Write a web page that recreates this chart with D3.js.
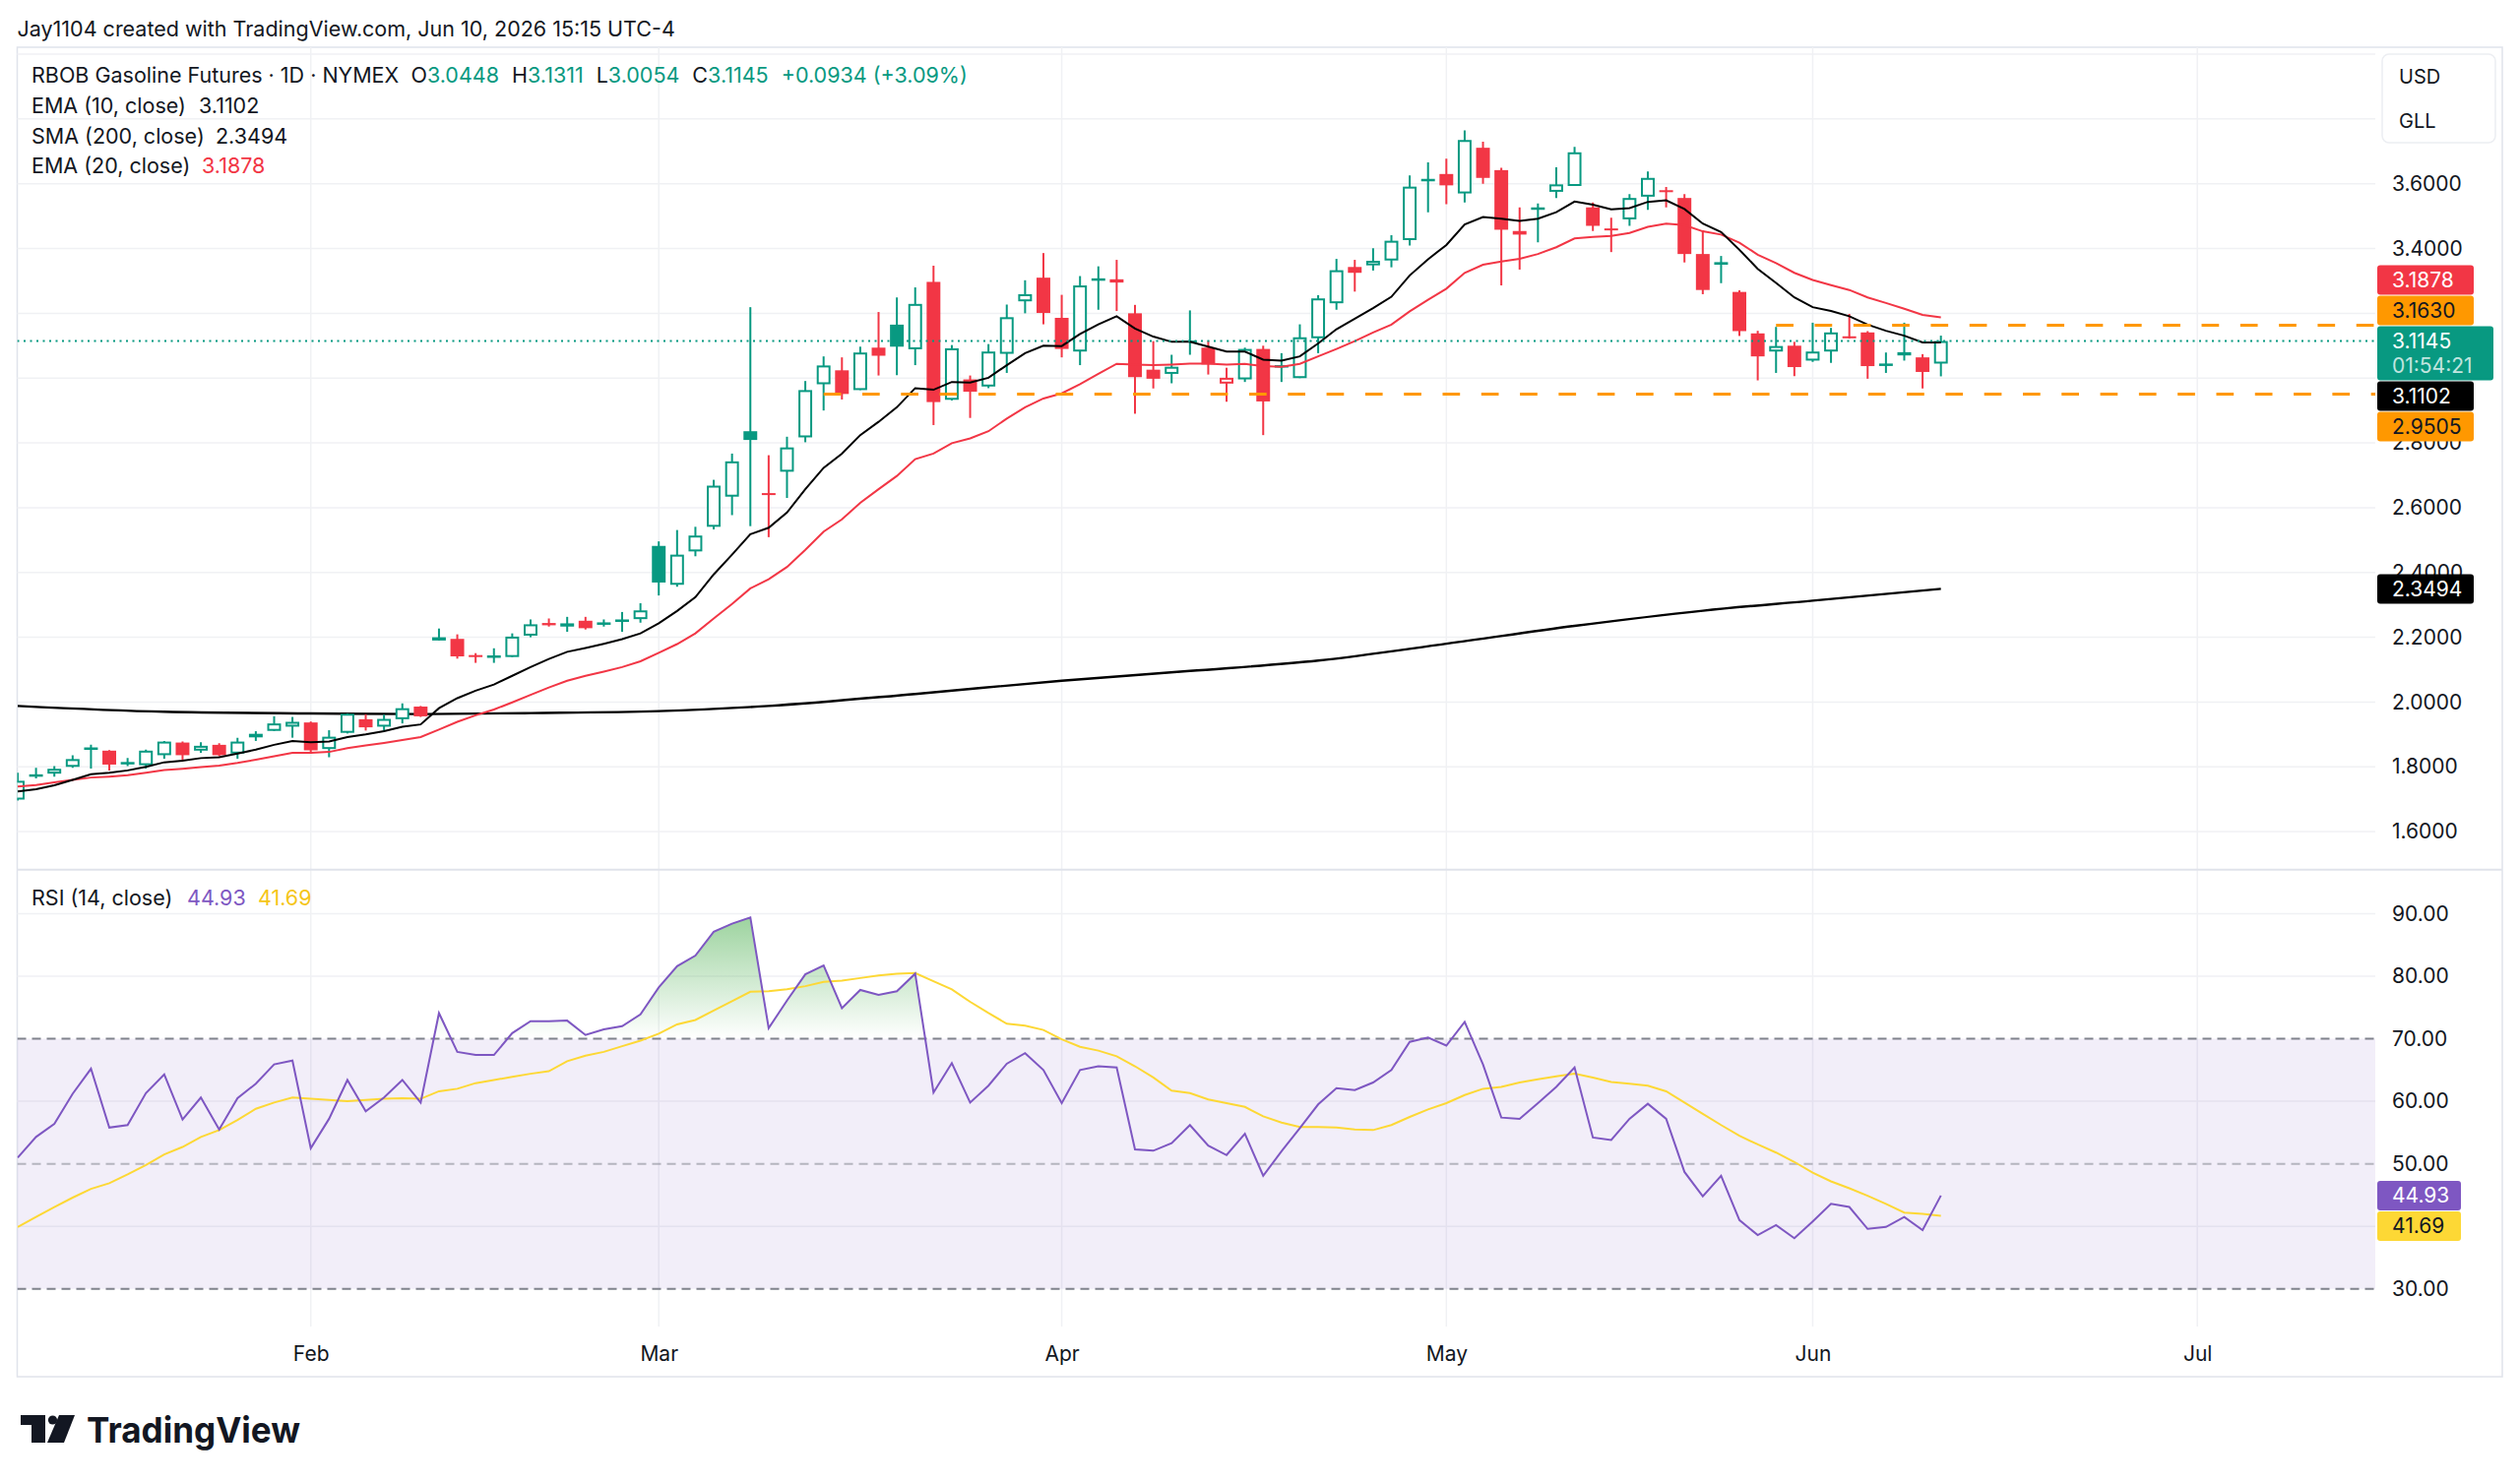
<!DOCTYPE html>
<html>
<head>
<meta charset="utf-8">
<script src="https://cdn.jsdelivr.net/npm/d3@7"></script>
<style>
  html, body { margin: 0; padding: 0; background: #ffffff; }
  svg { display: block; font-family: Inter, "Noto Sans", sans-serif; }
</style>
</head>
<body>
<svg id="chart" width="2560" height="1507"></svg>
<script>
// trading calendar (weekdays minus exchange holidays)
var firstDay = '2026-01-08', lastDay = '2026-07-02';
var holidays = ['2026-01-19', '2026-02-16', '2026-04-03', '2026-05-25', '2026-06-19'];

// daily OHLC, Jan 8 -> Jun 10
var opens = [1.699,1.775,1.779,1.800,1.854,1.850,1.812,1.805,1.836,1.875,1.850,1.868,1.841,1.902,1.911,1.924,
  1.937,1.855,1.905,1.947,1.924,1.947,1.986,2.190,2.195,2.145,2.140,2.139,2.205,2.244,2.233,2.251,2.243,2.250,2.256,
  2.482,2.362,2.465,2.541,2.634,2.836,2.645,2.711,2.817,2.981,3.024,2.963,3.094,3.165,3.089,3.297,2.933,2.996,2.974,3.075,3.237,3.310,
  3.186,3.082,3.306,3.305,3.200,3.026,3.013,3.116,3.094,2.983,2.996,3.090,3.038,3.000,3.123,3.231,3.343,3.348,3.363,3.426,3.613,
  3.630,3.570,3.711,3.642,3.443,3.525,3.575,3.593,3.527,3.462,3.490,3.560,3.580,3.556,3.383,3.358,3.266,3.138,3.082,3.100,
  3.054,3.082,3.129,3.141,3.043,3.080,3.064,3.0448];
var highs = [1.782,1.797,1.802,1.836,1.868,1.852,1.827,1.853,1.880,1.878,1.876,1.873,1.890,1.910,1.956,1.954,
  1.940,1.913,1.965,1.962,1.961,1.996,1.988,2.227,2.209,2.151,2.166,2.212,2.255,2.258,2.263,2.263,2.255,2.278,2.305,
  2.496,2.531,2.541,2.686,2.767,3.219,2.762,2.819,2.991,3.067,3.064,3.097,3.204,3.249,3.280,3.347,3.102,3.008,3.105,3.227,3.302,3.386,
  3.257,3.315,3.345,3.365,3.226,3.114,3.072,3.209,3.115,3.032,3.094,3.100,3.077,3.166,3.256,3.368,3.365,3.401,3.441,3.626,3.666,
  3.677,3.765,3.730,3.649,3.527,3.539,3.651,3.714,3.542,3.495,3.568,3.638,3.590,3.568,3.456,3.377,3.271,3.146,3.158,3.112,
  3.171,3.155,3.198,3.145,3.079,3.171,3.074,3.1311];
var lows = [1.696,1.764,1.770,1.797,1.795,1.789,1.802,1.795,1.825,1.820,1.843,1.833,1.825,1.880,1.911,1.890,
  1.840,1.830,1.903,1.912,1.910,1.934,1.954,2.190,2.134,2.121,2.121,2.139,2.200,2.233,2.217,2.224,2.233,2.217,2.245,
  2.329,2.356,2.450,2.533,2.577,2.543,2.509,2.630,2.802,2.900,2.934,2.963,3.008,3.009,3.040,2.855,2.931,2.877,2.969,3.016,3.200,3.166,
  3.064,3.040,3.211,3.207,2.890,2.968,2.984,3.072,3.011,2.927,2.988,2.824,2.988,3.000,3.077,3.211,3.267,3.332,3.342,3.409,3.512,
  3.537,3.542,3.600,3.286,3.335,3.419,3.556,3.593,3.454,3.389,3.470,3.519,3.527,3.357,3.259,3.293,3.130,2.993,3.016,3.006,
  3.050,3.047,3.122,2.998,3.016,3.054,2.968,3.0054];
var closes = [1.757,1.777,1.794,1.824,1.860,1.807,1.815,1.850,1.878,1.836,1.865,1.836,1.878,1.891,1.934,1.939,
  1.851,1.893,1.964,1.922,1.948,1.981,1.956,2.200,2.141,2.140,2.144,2.202,2.240,2.237,2.243,2.228,2.246,2.255,2.283,
  2.369,2.455,2.514,2.668,2.743,2.809,2.643,2.786,2.963,3.039,2.951,3.079,3.069,3.097,3.229,2.926,3.092,2.958,3.082,3.188,3.259,3.201,
  3.090,3.286,3.308,3.295,3.003,2.998,3.035,3.112,3.042,3.001,3.090,2.928,3.040,3.126,3.246,3.333,3.325,3.362,3.424,3.591,3.615,
  3.595,3.735,3.618,3.458,3.454,3.527,3.598,3.697,3.470,3.460,3.556,3.618,3.578,3.383,3.272,3.350,3.145,3.067,3.099,3.034,
  3.082,3.141,3.128,3.037,3.045,3.070,3.019,3.1145];

// indicator values, one per bar
var ema10 = [1.724,1.731,1.743,1.760,1.777,1.782,1.789,1.800,1.814,1.819,1.827,1.830,1.841,1.853,1.868,1.880,
  1.876,1.878,1.892,1.900,1.910,1.924,1.931,1.981,2.012,2.035,2.054,2.081,2.108,2.133,2.155,2.167,2.180,2.194,2.212,
  2.243,2.281,2.324,2.394,2.455,2.518,2.538,2.585,2.657,2.723,2.767,2.824,2.865,2.910,2.969,2.964,2.988,2.986,3.001,3.040,3.077,3.100,
  3.099,3.136,3.166,3.191,3.153,3.128,3.112,3.112,3.097,3.082,3.082,3.057,3.054,3.067,3.107,3.151,3.183,3.216,3.251,3.317,3.367,
  3.411,3.474,3.497,3.492,3.485,3.492,3.512,3.545,3.535,3.521,3.525,3.544,3.549,3.522,3.477,3.451,3.396,3.337,3.294,3.249,
  3.219,3.207,3.191,3.165,3.146,3.131,3.110,3.1102];
var ema20 = [1.739,1.744,1.752,1.760,1.767,1.770,1.774,1.782,1.790,1.794,1.799,1.804,1.812,1.822,1.833,1.843,
  1.843,1.846,1.858,1.866,1.874,1.883,1.892,1.915,1.939,1.959,1.977,1.999,2.022,2.045,2.066,2.081,2.094,2.108,2.126,
  2.152,2.179,2.212,2.258,2.303,2.351,2.379,2.417,2.470,2.526,2.564,2.615,2.657,2.698,2.750,2.767,2.799,2.814,2.836,2.875,2.910,2.937,
  2.953,2.981,3.013,3.044,3.042,3.040,3.042,3.045,3.045,3.042,3.044,3.037,3.035,3.044,3.067,3.090,3.114,3.141,3.165,3.206,3.242,
  3.276,3.325,3.350,3.360,3.368,3.383,3.404,3.431,3.436,3.439,3.448,3.467,3.477,3.472,3.453,3.443,3.418,3.381,3.355,3.325,
  3.303,3.287,3.272,3.249,3.232,3.214,3.195,3.1878];
var rsi = [51.0,54.3,56.4,61.2,65.2,55.8,56.2,61.3,64.3,57.1,60.6,55.5,60.5,62.8,65.9,66.5,
  52.5,57.2,63.4,58.4,60.6,63.4,59.8,74.1,67.9,67.4,67.4,70.9,72.8,72.8,72.9,70.6,71.5,72.0,73.9,
  78.2,81.6,83.3,87.1,88.4,89.4,71.7,76.1,80.3,81.7,74.9,77.8,77.0,77.6,80.4,61.4,66.1,59.8,62.5,66.0,67.7,65.0,
  59.7,65.0,65.6,65.4,52.3,52.1,53.3,56.2,52.9,51.4,54.8,48.1,52.0,55.7,59.5,62.1,61.8,63.0,65.0,69.5,70.2,
  68.9,72.7,65.9,57.4,57.2,59.7,62.3,65.4,54.2,53.8,57.2,59.6,57.2,48.7,44.8,48.1,41.0,38.6,40.2,38.1,
  40.8,43.6,43.1,39.6,39.9,41.5,39.4,44.93];
var rsiMa = [39.9,41.5,43.1,44.6,46.0,46.9,48.3,49.8,51.5,52.7,54.3,55.4,57.0,58.8,59.8,60.6,
  60.4,60.2,60.0,60.2,60.4,60.5,60.4,61.6,62.0,62.9,63.4,63.9,64.4,64.8,66.4,67.3,67.9,68.8,69.7,
  70.8,72.3,73.0,74.5,76.0,77.5,77.6,77.9,78.4,79.1,79.3,79.7,80.1,80.4,80.5,79.2,77.9,75.9,74.1,72.4,72.1,71.4,
  69.9,68.7,68.1,67.2,65.6,63.8,61.7,61.3,60.3,59.7,59.1,57.6,56.6,55.9,55.9,55.8,55.5,55.4,56.2,57.5,58.7,
  59.7,61.0,62.0,62.3,63.0,63.5,64.0,64.4,63.8,63.1,62.8,62.5,61.6,59.8,58.0,56.2,54.5,53.1,51.8,50.3,
  48.6,47.2,46.1,44.9,43.6,42.2,42.0,41.69];

// SMA 200 read at a few dates
var smaDates = ['2026-01-08','2026-01-21','2026-02-02','2026-02-10','2026-02-19','2026-03-02','2026-03-10','2026-03-20',
  '2026-04-01','2026-04-13','2026-04-22','2026-05-01','2026-05-12','2026-05-21','2026-06-01','2026-06-10'];
var smaValues = [1.988,1.970,1.965,1.963,1.966,1.972,1.988,2.025,2.066,2.096,2.128,2.180,2.235,2.282,2.313,2.3494];

// horizontal ray drawings
var levelStarts = ['2026-03-13', '2026-05-28'];
var levelValues = [2.9505, 3.1630];

// axis ticks
var priceTicks = [1.6, 1.8, 2.0, 2.2, 2.4, 2.6, 2.8, 3.0, 3.2, 3.4, 3.6];
var priceGrid = [1.6, 1.8, 2.0, 2.2, 2.4, 2.6, 2.8, 3.0, 3.2, 3.4, 3.6, 3.8, 4.0];
var rsiTicks = [30, 40, 50, 60, 70, 80, 90];
var monthStarts = ['2026-02-02', '2026-03-02', '2026-04-01', '2026-05-01', '2026-06-01', '2026-07-01'];
var monthLabels = ['Feb', 'Mar', 'Apr', 'May', 'Jun', 'Jul'];

var UP = '#089981', DOWN = '#f23645', ORANGE = '#ff9800', TXT = '#131722';
var GRID = '#f0f1f4', BORDER = '#e0e3eb';
var FONT = 'Inter, "Noto Sans", sans-serif';

function buildCalendar(a, b, skip) {
    var out = [], d = new Date(a + 'T00:00:00Z'), end = new Date(b + 'T00:00:00Z');
    while (d <= end) {
        var wd = d.getUTCDay(), s = d.toISOString().slice(0, 10);
        if (wd !== 0 && wd !== 6 && skip.indexOf(s) < 0) out.push(s);
        d.setUTCDate(d.getUTCDate() + 1);
    }
    return out;
}
var dates = buildCalendar(firstDay, lastDay, holidays);
var idx = function (s) { return dates.indexOf(s); };

// layout
var L = 17.5, R = 2542, plotR = 2413, paneTop = 48, split = 883.7, rsiBot = 1348, frameBot = 1399;

var x = d3.scaleLinear().domain([idx('2026-02-02'), idx('2026-06-10')]).range([315.7, 1971.7]);
var y = d3.scaleLinear().domain([1.6, 3.6]).range([845.1, 186.7]);
var yr = d3.scaleLinear().domain([30, 90]).range([1309.8, 928.4]);
var step = x(1) - x(0), bodyW = step * 0.75;

var svg = d3.select('#chart');
var defs = svg.append('defs');
defs.append('clipPath').attr('id', 'clipMain').append('rect')
    .attr('x', L).attr('y', paneTop).attr('width', plotR - L).attr('height', split - paneTop);
defs.append('clipPath').attr('id', 'clipRsi').append('rect')
    .attr('x', L).attr('y', split).attr('width', plotR - L).attr('height', rsiBot - split);
defs.append('clipPath').attr('id', 'clipOb').append('rect')
    .attr('x', L).attr('y', split).attr('width', plotR - L).attr('height', yr(70) - split);
var grad = defs.append('linearGradient').attr('id', 'obGrad')
    .attr('gradientUnits', 'userSpaceOnUse').attr('x1', 0).attr('x2', 0)
    .attr('y1', yr(100)).attr('y2', yr(70));
grad.append('stop').attr('offset', 0).attr('stop-color', '#4caf50').attr('stop-opacity', 0.85);
grad.append('stop').attr('offset', 1).attr('stop-color', '#4caf50').attr('stop-opacity', 0);

svg.append('rect').attr('width', 2560).attr('height', 1507).attr('fill', '#fff');

// header
svg.append('text').attr('x', L).attr('y', 37).attr('font-size', 21.5).attr('fill', TXT)
    .text('Jay1104 created with TradingView.com, Jun 10, 2026 15:15 UTC-4');

// frame
svg.append('rect').attr('x', L).attr('y', paneTop).attr('width', R - L).attr('height', frameBot - paneTop)
    .attr('fill', 'none').attr('stroke', BORDER).attr('stroke-width', 1.5);

// grid
var grid = svg.append('g');
monthStarts.forEach(function (m) {
    grid.append('line').attr('x1', x(idx(m))).attr('x2', x(idx(m))).attr('y1', paneTop).attr('y2', rsiBot)
        .attr('stroke', GRID).attr('stroke-width', 1.5);
});
priceGrid.forEach(function (p) {
    if (y(p) < paneTop || y(p) > split) return;
    grid.append('line').attr('x1', L).attr('x2', plotR).attr('y1', y(p)).attr('y2', y(p))
        .attr('stroke', GRID).attr('stroke-width', 1.5);
});
[90, 80, 60, 40].forEach(function (v) {
    grid.append('line').attr('x1', L).attr('x2', plotR).attr('y1', yr(v)).attr('y2', yr(v))
        .attr('stroke', GRID).attr('stroke-width', 1.5);
});
svg.append('line').attr('x1', L).attr('x2', R).attr('y1', split).attr('y2', split)
    .attr('stroke', BORDER).attr('stroke-width', 2);

// ---------- main pane ----------
var main = svg.append('g').attr('clip-path', 'url(#clipMain)');

main.append('path')
    .datum(smaDates.map(function (d, i) { return [idx(d), smaValues[i]]; }))
    .attr('fill', 'none').attr('stroke', '#000').attr('stroke-width', 2.4)
    .attr('d', d3.line().x(function (d) { return x(d[0]); }).y(function (d) { return y(d[1]); }).curve(d3.curveMonotoneX));

var bars = closes.map(function (c, i) {
    var prev = i > 0 ? closes[i - 1] : opens[i];
    return { i: i, o: opens[i], h: highs[i], l: lows[i], c: c, col: c >= prev ? UP : DOWN, hollow: c > opens[i] };
});

var cg = main.append('g').selectAll('g').data(bars).join('g');
cg.append('line')
    .attr('x1', function (d) { return x(d.i); }).attr('x2', function (d) { return x(d.i); })
    .attr('y1', function (d) { return y(d.h); }).attr('y2', function (d) { return y(d.l); })
    .attr('stroke', function (d) { return d.col; }).attr('stroke-width', 2);
cg.append('rect')
    .attr('x', function (d) { return x(d.i) - bodyW / 2 + (d.hollow ? 1 : 0); })
    .attr('width', function (d) { return bodyW - (d.hollow ? 2 : 0); })
    .attr('y', function (d) { return y(Math.max(d.o, d.c)) + (d.hollow ? 1 : 0); })
    .attr('height', function (d) {
        var h = Math.abs(y(d.o) - y(d.c));
        return d.hollow ? Math.max(h - 2, 0.5) : Math.max(h, 2);
    })
    .attr('fill', function (d) { return d.hollow ? '#fff' : d.col; })
    .attr('stroke', function (d) { return d.hollow ? d.col : 'none'; })
    .attr('stroke-width', 2);

var lineOf = function (arr) {
    return d3.line().x(function (d, i) { return x(i); }).y(function (d) { return y(d); })(arr);
};
main.append('path').attr('d', lineOf(ema20)).attr('fill', 'none').attr('stroke', DOWN).attr('stroke-width', 2);
main.append('path').attr('d', lineOf(ema10)).attr('fill', 'none').attr('stroke', '#000').attr('stroke-width', 2);

// last price dotted line
var last = closes[closes.length - 1];
main.append('line').attr('x1', L).attr('x2', plotR).attr('y1', y(last)).attr('y2', y(last))
    .attr('stroke', UP).attr('stroke-width', 2).attr('stroke-dasharray', '2,4.5');

// horizontal rays
levelValues.forEach(function (v, k) {
    main.append('line').attr('x1', x(idx(levelStarts[k]))).attr('x2', plotR)
        .attr('y1', y(v)).attr('y2', y(v))
        .attr('stroke', ORANGE).attr('stroke-width', 3).attr('stroke-dasharray', '17.7,21.6');
});

// ---------- RSI pane ----------
var rp = svg.append('g').attr('clip-path', 'url(#clipRsi)');
rp.append('rect').attr('x', L).attr('width', plotR - L).attr('y', yr(70)).attr('height', yr(30) - yr(70))
    .attr('fill', '#7e57c2').attr('fill-opacity', 0.1);
[[70, 0.95], [50, 0.5], [30, 0.95]].forEach(function (d) {
    rp.append('line').attr('x1', L).attr('x2', plotR).attr('y1', yr(d[0])).attr('y2', yr(d[0]))
        .attr('stroke', '#787b86').attr('stroke-opacity', d[1]).attr('stroke-width', 2)
        .attr('stroke-dasharray', '9,6');
});
rp.append('path').attr('clip-path', 'url(#clipOb)')
    .attr('d', d3.area().x(function (d, i) { return x(i); }).y0(yr(70)).y1(function (d) { return yr(d); })(rsi))
    .attr('fill', 'url(#obGrad)');
var rline = d3.line().x(function (d, i) { return x(i); }).y(function (d) { return yr(d); });
rp.append('path').attr('d', rline(rsiMa)).attr('fill', 'none').attr('stroke', '#fdd835').attr('stroke-width', 2);
rp.append('path').attr('d', rline(rsi)).attr('fill', 'none').attr('stroke', '#7e57c2').attr('stroke-width', 2);

// ---------- price tags (positions worked out first so covered axis labels can be dropped) ----------
function placeTags(tags, anchor) {
    var gap = 1;
    var above = tags.filter(function (t) { return t.v > anchor.v; }).sort(function (a, b) { return a.v - b.v; });
    var below = tags.filter(function (t) { return t.v < anchor.v; }).sort(function (a, b) { return b.v - a.v; });
    anchor.top = anchor.yy - 15;
    var lim = anchor.top;
    above.forEach(function (t) { t.top = Math.min(t.yy - t.h / 2, lim - gap - t.h); lim = t.top; });
    lim = anchor.top + anchor.h;
    below.forEach(function (t) { t.top = Math.max(t.yy - t.h / 2, lim + gap); lim = t.top + t.h; });
    return tags;
}
var f4 = d3.format('.4f'), f2 = d3.format('.2f');
var lastTag = { v: last, yy: y(last), h: 55, w: 118, bg: UP, fg: '#fff', label: f4(last), sub: '01:54:21' };
var priceTags = [
    { v: ema20[ema20.length - 1], bg: DOWN, fg: '#fff' },
    { v: levelValues[1], bg: ORANGE, fg: '#131722' },
    lastTag,
    { v: ema10[ema10.length - 1], bg: '#000', fg: '#fff' },
    { v: levelValues[0], bg: ORANGE, fg: '#131722' }
];
priceTags.forEach(function (t) { if (t !== lastTag) { t.yy = y(t.v); t.h = 30; t.w = 98; t.label = f4(t.v); } });
placeTags(priceTags, lastTag);
var smaLast = smaValues[smaValues.length - 1];
priceTags.push({ v: smaLast, top: y(smaLast) - 15, h: 30, w: 98, bg: '#000', fg: '#fff', label: f4(smaLast) });

var rsiLastTag = { v: rsi[rsi.length - 1], yy: yr(rsi[rsi.length - 1]), h: 30, w: 85, bg: '#7e57c2', fg: '#fff', label: f2(rsi[rsi.length - 1]) };
var rsiTags = [rsiLastTag, { v: rsiMa[rsiMa.length - 1], yy: yr(rsiMa[rsiMa.length - 1]), h: 30, w: 85, bg: '#fdd835', fg: '#131722', label: f2(rsiMa[rsiMa.length - 1]) }];
placeTags(rsiTags, rsiLastTag);

var allTags = priceTags.concat(rsiTags);
function covered(py) {
    return allTags.some(function (t) { return py > t.top && py < t.top + t.h; });
}

// ---------- axes ----------
function styleAxis(g) {
    g.select('.domain').remove();
    g.selectAll('text').attr('fill', TXT).attr('font-family', FONT).attr('font-size', 21);
}
svg.append('g').attr('transform', 'translate(' + plotR + ',0)')
    .call(d3.axisRight(y).tickValues(priceTicks.filter(function (p) { return !covered(y(p)); }))
        .tickFormat(d3.format('.4f')).tickSize(0).tickPadding(17))
    .call(styleAxis);
svg.append('g').attr('transform', 'translate(' + plotR + ',0)')
    .call(d3.axisRight(yr).tickValues(rsiTicks.filter(function (p) { return !covered(yr(p)); }))
        .tickFormat(d3.format('.2f')).tickSize(0).tickPadding(17))
    .call(styleAxis);
svg.append('g').attr('transform', 'translate(0,' + rsiBot + ')')
    .call(d3.axisBottom(x).tickValues(monthStarts.map(idx))
        .tickFormat(function (d, i) { return monthLabels[i]; }).tickSize(0).tickPadding(20))
    .call(styleAxis);

// USD / GLL box
svg.append('rect').attr('x', 2420).attr('y', 55).attr('width', 115).attr('height', 90).attr('rx', 7)
    .attr('fill', '#fff').attr('stroke', '#eceef2').attr('stroke-width', 1.5);
svg.append('text').attr('x', 2437).attr('y', 78).attr('dy', '0.35em').attr('font-size', 20).attr('fill', TXT).text('USD');
svg.append('text').attr('x', 2437).attr('y', 123).attr('dy', '0.35em').attr('font-size', 20).attr('fill', TXT).text('GLL');

function drawTag(t) {
    svg.append('rect').attr('x', 2415).attr('y', t.top).attr('width', t.w).attr('height', t.h).attr('rx', 3)
        .attr('fill', t.bg);
    svg.append('text').attr('x', 2430).attr('y', t.top + 15).attr('dy', '0.35em').attr('font-size', 21)
        .attr('fill', t.fg).text(t.label);
    if (t.sub) {
        svg.append('text').attr('x', 2430).attr('y', t.top + 40).attr('dy', '0.35em').attr('font-size', 21)
            .attr('fill', t.fg).attr('fill-opacity', 0.75).text(t.sub);
    }
}
allTags.forEach(drawTag);

// ---------- legends ----------
var lg = svg.append('g').attr('font-size', 21.5).attr('fill', TXT);
var t1 = lg.append('text').attr('x', 32).attr('y', 84);
t1.append('tspan').text('RBOB Gasoline Futures · 1D · NYMEX');
[['O', opens], ['H', highs], ['L', lows], ['C', closes]].forEach(function (p) {
    t1.append('tspan').attr('dx', 13).text(p[0]);
    t1.append('tspan').attr('fill', UP).text(f4(p[1][p[1].length - 1]));
});
t1.append('tspan').attr('dx', 13).attr('fill', UP).text('+0.0934 (+3.09%)');

var legendRows = [['EMA (10, close)', ema10, '#131722', 202], ['SMA (200, close)', smaValues, '#131722', 219], ['EMA (20, close)', ema20, DOWN, 205]];
legendRows.forEach(function (r, k) {
    var yy = 115 + k * 30.6;
    lg.append('text').attr('x', 32).attr('y', yy).text(r[0]);
    lg.append('text').attr('x', r[3]).attr('y', yy).attr('fill', r[2]).text(f4(r[1][r[1].length - 1]));
});

var rl = svg.append('g').attr('font-size', 21.5);
rl.append('text').attr('x', 32).attr('y', 920).attr('fill', TXT).text('RSI (14, close)');
rl.append('text').attr('x', 190).attr('y', 920).attr('fill', '#7e57c2').text(f2(rsi[rsi.length - 1]));
rl.append('text').attr('x', 262).attr('y', 920).attr('fill', '#f5c518').text(f2(rsiMa[rsiMa.length - 1]));

// ---------- TradingView mark ----------
var logo = svg.append('g').attr('fill', '#131722');
logo.append('path').attr('d', 'M21,1438 H46 V1466 H32 V1448 H21 Z');
logo.append('circle').attr('cx', 53.5).attr('cy', 1443).attr('r', 4.6);
logo.append('path').attr('d', 'M60,1438 H76 L65,1466 H48 Z');
logo.append('text').attr('x', 88).attr('y', 1466).attr('font-size', 36).attr('font-weight', 700)
    .attr('textLength', 217).attr('lengthAdjust', 'spacingAndGlyphs').text('TradingView');
</script>
</body>
</html>
